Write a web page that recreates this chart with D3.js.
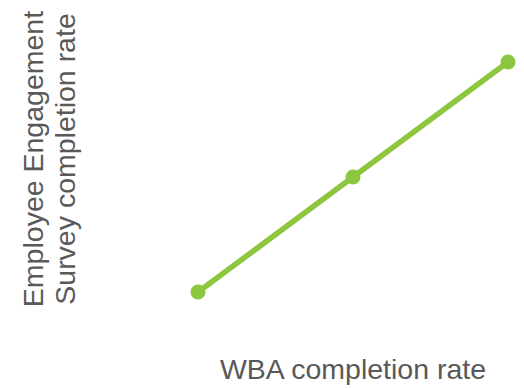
<!DOCTYPE html>
<html>
<head>
<meta charset="utf-8">
<script src="https://cdn.jsdelivr.net/npm/d3@7"></script>
<style>
  html, body { margin: 0; padding: 0; background: #fff; }
  svg { display: block; }
  text { font-family: "Liberation Sans", Arial, sans-serif; fill: #595959; }
</style>
</head>
<body>
<script>
// Completion levels: WBA completion (x) against engagement survey completion (y)
const levels = ["Low", "Medium", "High"];
const wbaCompletion = [1, 2, 3];
const surveyCompletion = [1, 2, 3];
const xTitle = "WBA completion rate";
const yTitleLines = ["Employee Engagement", "Survey completion rate"];

const width = 524, height = 388;
const svg = d3.select("body").append("svg")
  .attr("width", width).attr("height", height);

const x = d3.scaleLinear().domain([1, 3]).range([198, 508]);
const y = d3.scaleLinear().domain([1, 3]).range([292, 62]);

const points = levels.map((l, i) => ({ level: l, x: wbaCompletion[i], y: surveyCompletion[i] }));

const green = "#8dc63f";

svg.append("path")
  .datum(points)
  .attr("fill", "none")
  .attr("stroke", green)
  .attr("stroke-width", 5.5)
  .attr("d", d3.line().x(d => x(d.x)).y(d => y(d.y)));

svg.selectAll("circle.pt")
  .data(points)
  .enter().append("circle")
  .attr("class", "pt")
  .attr("cx", d => x(d.x))
  .attr("cy", d => y(d.y))
  .attr("r", 7.5)
  .attr("fill", green);

// Axis titles
svg.append("text")
  .attr("x", 353)
  .attr("y", 379)
  .attr("text-anchor", "middle")
  .attr("font-size", 28.5)
  .text(xTitle);

const yt = svg.append("g").attr("transform", "translate(0,159) rotate(-90)");
yTitleLines.forEach((line, i) => {
  yt.append("text")
    .attr("x", 0)
    .attr("y", 43 + i * 32)
    .attr("text-anchor", "middle")
    .attr("font-size", 28.5)
    .text(line);
});
</script>
</body>
</html>
